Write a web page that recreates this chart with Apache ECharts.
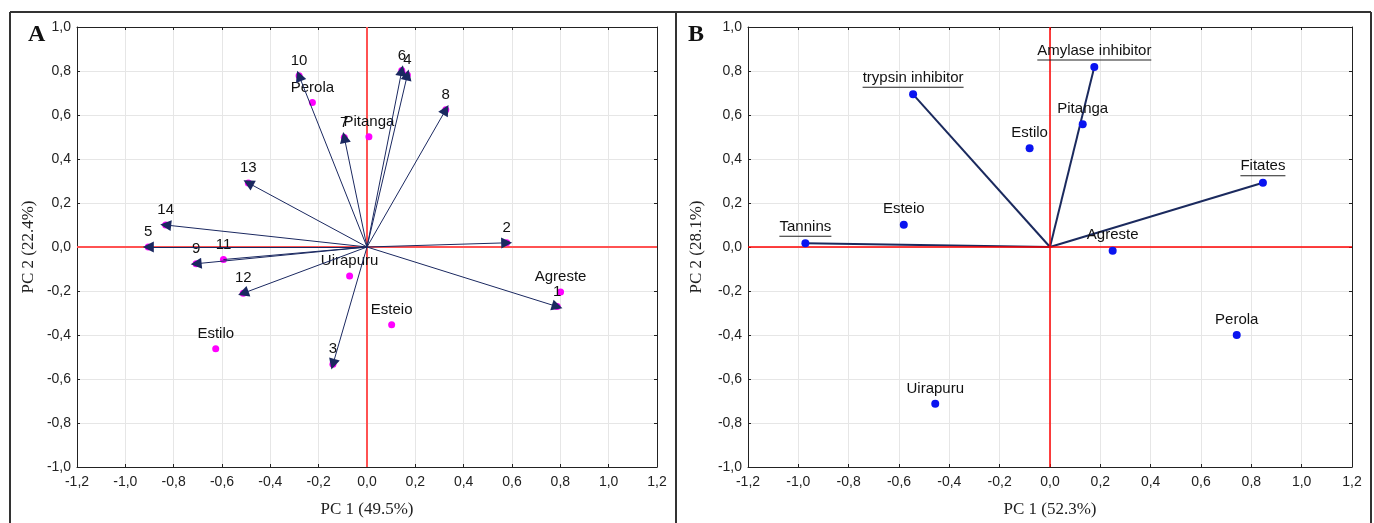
<!DOCTYPE html>
<html>
<head>
<meta charset="utf-8">
<script src="https://cdn.jsdelivr.net/npm/echarts@6/dist/echarts.min.js"></script>
<style>
  html, body { margin: 0; padding: 0; background: #fff; }
  #main { width: 1374px; height: 523px; }
</style>
</head>
<body>
<div id="main"></div>
<script>
// panel A: variable loadings (arrows) and cultivar scores
var varNamesA = ['1', '2', '3', '4', '5', '6', '7', '8', '9', '10', '11', '12', '13', '14'];
var varPC1A = [0.787, 0.578, -0.141, 0.167, -0.905, 0.144, -0.094, 0.326, -0.707, -0.281, -0.594, -0.512, -0.491, -0.833];
var varPC2A = [-0.271, 0.019, -0.533, 0.782, 0.0, 0.802, 0.498, 0.624, -0.076, 0.778, -0.057, -0.210, 0.291, 0.100];
var noHeadA = ['11'];
var cultNamesA = ['Agreste', 'Esteio', 'Estilo', 'Perola', 'Pitanga', 'Uirapuru'];
var cultPC1A = [0.801, 0.102, -0.626, -0.226, 0.008, -0.072];
var cultPC2A = [-0.205, -0.353, -0.462, 0.657, 0.501, -0.132];

// panel B
var varNamesB = ['Tannins', 'trypsin inhibitor', 'Amylase inhibitor', 'Fitates'];
var varPC1B = [-0.972, -0.544, 0.176, 0.846];
var varPC2B = [0.017, 0.694, 0.818, 0.292];
var cultNamesB = ['Agreste', 'Esteio', 'Estilo', 'Perola', 'Pitanga', 'Uirapuru'];
var cultPC1B = [0.249, -0.581, -0.081, 0.742, 0.130, -0.456];
var cultPC2B = [-0.017, 0.101, 0.449, -0.400, 0.558, -0.713];

var axisNames = ['PC 1 (49.5%)', 'PC 2 (22.4%)', 'PC 1 (52.3%)', 'PC 2 (28.1%)'];
var xRange = [-1.2, 1.2];
var yRange = [-1, 1];

var sans = '"Liberation Sans", Arial, sans-serif';
var serif = '"Liberation Serif", "Times New Roman", serif';

function fmt(v) {
    if (Math.abs(v) < 1e-9) v = 0;
    return v.toFixed(1).replace('.', ',');
}

function measure(txt) {
    var ctx = document.createElement('canvas').getContext('2d');
    ctx.font = '15px ' + sans;
    return Math.round(ctx.measureText(txt).width);
}

function xAxes(g, name) {
    return [{
        type: 'value', gridIndex: g, position: 'bottom', min: xRange[0], max: xRange[1], interval: 0.2,
        name: name, nameLocation: 'middle', nameGap: 34,
        nameTextStyle: { fontFamily: serif, fontSize: 17, color: '#222' },
        axisLine: { onZero: false, lineStyle: { color: '#222' } },
        axisTick: { inside: true, length: 3, lineStyle: { color: '#222' } },
        axisLabel: { formatter: fmt, fontFamily: sans, fontSize: 14, color: '#222', margin: 8 },
        splitLine: { show: true, lineStyle: { color: '#e6e6e6' } }
    }, {
        type: 'value', gridIndex: g, position: 'top', min: xRange[0], max: xRange[1], interval: 0.2,
        axisLine: { onZero: false, lineStyle: { color: '#222' } },
        axisTick: { inside: true, length: 3, lineStyle: { color: '#222' } },
        axisLabel: { show: false }, splitLine: { show: false }
    }];
}

function yAxes(g, name, gap) {
    return [{
        type: 'value', gridIndex: g, position: 'left', min: yRange[0], max: yRange[1], interval: 0.2,
        name: name, nameLocation: 'middle', nameGap: gap,
        nameTextStyle: { fontFamily: serif, fontSize: 17, color: '#222' },
        axisLine: { onZero: false, lineStyle: { color: '#222' } },
        axisTick: { inside: true, length: 3, lineStyle: { color: '#222' } },
        axisLabel: { formatter: fmt, fontFamily: sans, fontSize: 14, color: '#222', margin: 6 },
        splitLine: { show: true, lineStyle: { color: '#e6e6e6' } }
    }, {
        type: 'value', gridIndex: g, position: 'right', min: yRange[0], max: yRange[1], interval: 0.2,
        axisLine: { onZero: false, lineStyle: { color: '#222' } },
        axisTick: { inside: true, length: 3, lineStyle: { color: '#222' } },
        axisLabel: { show: false }, splitLine: { show: false }
    }];
}

function points(names, xs, ys) {
    return names.map(function (n, i) { return { name: n, value: [xs[i], ys[i]] }; });
}

function vectors(names, xs, ys, keep) {
    var out = [];
    names.forEach(function (n, i) {
        if (keep(n)) out.push({ coords: [[0, 0], [xs[i], ys[i]]] });
    });
    return out;
}

// red reference lines through the origin, spanning the axis ranges
function zeroSeries(xi, color, width, z) {
    return {
        type: 'lines', coordinateSystem: 'cartesian2d', xAxisIndex: xi, yAxisIndex: xi, z: z,
        silent: true, symbol: ['none', 'none'],
        lineStyle: { color: color, width: width, opacity: 1 },
        data: [
            { coords: [[xRange[0], 0], [xRange[1], 0]] },
            { coords: [[0, yRange[0]], [0, yRange[1]]] }
        ]
    };
}

var labelStyle = { show: true, position: 'top', distance: 4, formatter: '{b}',
    fontFamily: sans, fontSize: 15, color: '#111' };

var richB = { t: { fontFamily: sans, fontSize: 15, color: '#111', lineHeight: 17 } };
var underlined = varNamesB.map(function (n, i) {
    richB['u' + i] = { width: measure(n), height: 1, lineHeight: 2, backgroundColor: '#222' };
    return { name: n, value: [varPC1B[i], varPC2B[i]] };
});

var myChart = echarts.init(document.getElementById('main'));

var option = {
    animation: false,
    grid: [
        { left: 77, top: 27, width: 580, height: 441 },
        { left: 748, top: 27, width: 604, height: 441 }
    ],
    xAxis: xAxes(0, axisNames[0]).concat(xAxes(1, axisNames[2])),
    yAxis: yAxes(0, axisNames[1], 40).concat(yAxes(1, axisNames[3], 43)),
    graphic: [
        { type: 'line', shape: { x1: 10, y1: 12, x2: 1371, y2: 12 }, style: { stroke: '#333', lineWidth: 2 } },
        { type: 'line', shape: { x1: 10, y1: 12, x2: 10, y2: 530 }, style: { stroke: '#333', lineWidth: 2 } },
        { type: 'line', shape: { x1: 676, y1: 12, x2: 676, y2: 530 }, style: { stroke: '#333', lineWidth: 2 } },
        { type: 'line', shape: { x1: 1371, y1: 12, x2: 1371, y2: 530 }, style: { stroke: '#333', lineWidth: 2 } },
        { type: 'text', left: 28, top: 23, style: { text: 'A', font: 'bold 24px ' + serif, fill: '#111' } },
        { type: 'text', left: 688, top: 23, style: { text: 'B', font: 'bold 24px ' + serif, fill: '#111' } }
    ],
    series: [
        // panel A
        zeroSeries(0, '#ff5252', 2, 2),
        {
            type: 'scatter', xAxisIndex: 0, yAxisIndex: 0, z: 3,
            symbolSize: 7, itemStyle: { color: '#ff00ff', opacity: 1 },
            label: labelStyle,
            data: points(cultNamesA, cultPC1A, cultPC2A)
        },
        {
            type: 'scatter', xAxisIndex: 0, yAxisIndex: 0, z: 3,
            symbolSize: 7, itemStyle: { color: '#ff00ff', opacity: 1 },
            label: labelStyle,
            data: points(varNamesA, varPC1A, varPC2A)
        },
        {
            type: 'lines', coordinateSystem: 'cartesian2d', xAxisIndex: 0, yAxisIndex: 0, z: 5,
            symbol: ['none', 'triangle'], symbolSize: 11,
            lineStyle: { color: '#1a2860', width: 1, opacity: 1 },
            data: vectors(varNamesA, varPC1A, varPC2A, function (n) { return noHeadA.indexOf(n) < 0; })
        },
        {
            type: 'lines', coordinateSystem: 'cartesian2d', xAxisIndex: 0, yAxisIndex: 0, z: 5,
            symbol: ['none', 'none'],
            lineStyle: { color: '#1a2860', width: 1, opacity: 1 },
            data: vectors(varNamesA, varPC1A, varPC2A, function (n) { return noHeadA.indexOf(n) >= 0; })
        },
        // panel B
        {
            type: 'lines', coordinateSystem: 'cartesian2d', xAxisIndex: 2, yAxisIndex: 2, z: 3,
            symbol: ['none', 'none'],
            lineStyle: { color: '#1b2a5e', width: 2, opacity: 1 },
            data: vectors(varNamesB, varPC1B, varPC2B, function () { return true; })
        },
        zeroSeries(2, '#ff0000', 1.5, 10),
        {
            type: 'scatter', xAxisIndex: 2, yAxisIndex: 2, z: 11,
            symbolSize: 8, itemStyle: { color: '#0a14f0', opacity: 1 },
            label: labelStyle,
            data: points(cultNamesB, cultPC1B, cultPC2B)
        },
        {
            type: 'scatter', xAxisIndex: 2, yAxisIndex: 2, z: 11,
            symbolSize: 8, itemStyle: { color: '#0a14f0', opacity: 1 },
            label: {
                show: true, position: 'top', distance: 2,
                formatter: function (p) { return '{t|' + p.name + '}\n{u' + p.dataIndex + '|}'; },
                rich: richB
            },
            data: underlined
        }
    ]
};

myChart.setOption(option);
</script>
</body>
</html>
